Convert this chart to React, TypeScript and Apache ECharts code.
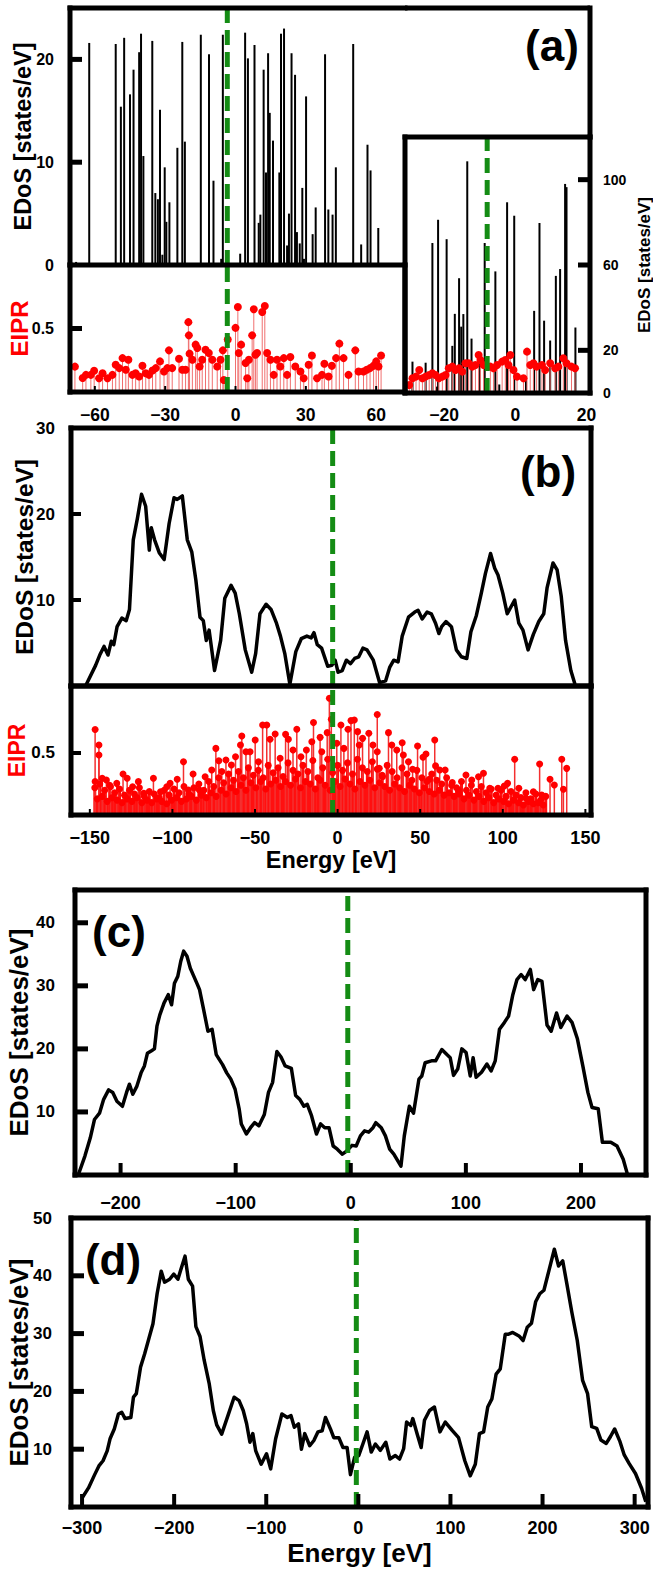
import React, { useEffect, useRef } from "react";
import * as echarts from "echarts";

const FONT = "'Liberation Sans', Arial, Helvetica, sans-serif";
const GREEN = "#148c14";

// ---------- Panel (a): stick EDoS + EIPR ----------
const aFermi = -3.5;
const aXTicks = [-60, -30, 0, 30, 60];
const aDosSticks: [number, number][] = [
  [-68.0, 0.3], [-62.4, 21.6], [-51.1, 21.5], [-48.9, 15.4], [-47.5, 22.1], [-45.0, 16.6], [-43.5, 19.0],
  [-41.1, 20.7], [-40.3, 22.5], [-39.3, 10.6], [-35.5, 21.8], [-34.2, 7.0], [-33.1, 6.4], [-32.2, 15.1],
  [-31.2, 1.0], [-30.2, 9.5], [-29.5, 4.2], [-28.2, 6.1], [-24.8, 11.4], [-22.7, 21.7], [-21.6, 12.0],
  [-14.8, 22.4], [-11.3, 20.5], [-9.4, 8.2], [-6.1, 0.6], [-5.4, 22.4], [2.0, 1.1], [4.1, 22.6],
  [5.3, 20.1], [8.1, 21.4], [9.9, 4.1], [10.6, 4.9], [12.0, 19.0], [13.0, 9.0], [13.9, 20.6],
  [14.6, 14.8], [16.0, 12.1], [18.7, 9.0], [19.4, 22.5], [20.7, 23.0], [22.0, 1.9], [22.8, 5.0],
  [23.9, 20.6], [25.4, 18.5], [26.2, 3.2], [27.4, 2.1], [28.5, 7.5], [29.2, 0.6], [30.1, 16.4],
  [32.9, 3.0], [34.2, 5.6], [38.2, 20.5], [39.6, 5.4], [41.4, 4.9], [42.8, 9.5], [50.2, 21.5],
  [53.6, 2.0], [56.3, 11.7], [57.6, 9.2], [60.9, 3.6],
];
const aIpr: [number, number][] = [
  [-68.5, 0.2], [-65.2, 0.11], [-63.8, 0.135], [-61.7, 0.135], [-60.3, 0.167], [-58.2, 0.108], [-56.7, 0.148],
  [-54.6, 0.108], [-52.5, 0.135], [-51.1, 0.214], [-49.6, 0.188], [-48.2, 0.267], [-46.8, 0.175], [-45.7, 0.254],
  [-44.0, 0.135], [-42.6, 0.148], [-41.1, 0.122], [-39.7, 0.206], [-38.3, 0.148], [-36.9, 0.135], [-35.4, 0.169],
  [-34.0, 0.188], [-32.2, 0.241], [-30.5, 0.161], [-29.1, 0.188], [-28.4, 0.328], [-27.0, 0.188], [-24.1, 0.262],
  [-22.7, 0.175], [-21.3, 0.175], [-20.1, 0.55], [-19.9, 0.446], [-19.6, 0.302], [-18.4, 0.254], [-17.0, 0.373],
  [-16.3, 0.347], [-15.3, 0.201], [-14.2, 0.254], [-12.8, 0.333], [-11.4, 0.307], [-9.9, 0.254], [-7.8, 0.201],
  [-6.4, 0.254], [-5.4, 0.328], [-5.0, 0.095], [-3.3, 0.413], [0.0, 0.505], [1.0, 0.669], [1.4, 0.307],
  [2.4, 0.373], [4.3, 0.228], [5.0, 0.108], [5.7, 0.254], [7.1, 0.446], [7.8, 0.651], [8.5, 0.294],
  [9.2, 0.307], [11.4, 0.63], [12.5, 0.677], [13.5, 0.307], [14.9, 0.254], [16.3, 0.135], [17.7, 0.254],
  [19.1, 0.201], [20.6, 0.267], [22.0, 0.135], [23.4, 0.275], [25.5, 0.201], [27.7, 0.161], [29.1, 0.108],
  [31.2, 0.214], [32.6, 0.288], [34.8, 0.108], [36.9, 0.135], [37.9, 0.222], [39.7, 0.122], [41.1, 0.206],
  [42.9, 0.267], [44.3, 0.381], [46.1, 0.267], [48.2, 0.135], [51.1, 0.328], [52.5, 0.161], [54.6, 0.161],
  [56.0, 0.175], [57.4, 0.188], [58.9, 0.206], [60.0, 0.241], [61.0, 0.201], [62.1, 0.288],
];

// inset of (a)
const insetFermi = -7.9;
const insetYTicks = [20, 60, 100];
const insetDosSticks: [number, number][] = [
  [-28.9, 14.7], [-25.2, 14.2], [-23.3, 70.3], [-22.0, 3.0], [-21.7, 81.2], [-19.3, 72.1], [-17.7, 22.1],
  [-17.0, 37.1], [-15.8, 53.8], [-15.2, 31.1], [-14.6, 37.0], [-13.5, 108.6], [-12.3, 25.5], [-10.0, 14.0],
  [-8.6, 70.3], [-5.6, 57.0], [-4.5, 4.0], [-2.3, 89.4], [-0.3, 83.1], [3.0, 6.0], [5.3, 38.5], [6.8, 79.7],
  [8.1, 33.9], [9.8, 24.6], [11.4, 54.9], [12.6, 58.1], [14.0, 98.0], [14.4, 96.5], [16.9, 30.7],
];
const insetIpr: [number, number][] = [
  [-29.8, 0.062], [-28.9, 0.115], [-27.9, 0.128], [-27.0, 0.18], [-26.1, 0.115], [-25.2, 0.128], [-24.2, 0.141],
  [-23.3, 0.154], [-22.4, 0.141], [-21.5, 0.115], [-20.5, 0.128], [-19.6, 0.141], [-18.7, 0.193], [-17.7, 0.206],
  [-16.8, 0.18], [-15.8, 0.193], [-14.9, 0.167], [-14.0, 0.232], [-13.1, 0.232], [-12.1, 0.206], [-11.2, 0.219],
  [-10.3, 0.297], [-9.8, 0.258], [-8.9, 0.219], [-7.0, 0.206], [-6.1, 0.193], [-5.1, 0.219], [-3.7, 0.245],
  [-2.8, 0.258], [-1.9, 0.219], [-1.4, 0.297], [-0.5, 0.18], [0.5, 0.128], [2.3, 0.115], [3.3, 0.323],
  [4.2, 0.219], [5.1, 0.232], [6.0, 0.206], [7.5, 0.219], [8.4, 0.18], [9.8, 0.232], [11.2, 0.193],
  [12.1, 0.206], [13.5, 0.271], [14.4, 0.232], [15.8, 0.206], [16.8, 0.193],
];

// ---------- Panel (b) ----------
const bFermi = -3;
const bXTicks = [-150, -100, -50, 0, 50, 100, 150];
const bDos: [number, number][] = [
  [-152.6, 0], [-146.5, 2.4], [-144, 3.6], [-141.4, 4.6], [-139, 3.6], [-137, 5.2], [-135.5, 4.8], [-133.5, 6.9],
  [-130.6, 7.9], [-128, 7.6], [-126, 8.9], [-123.7, 17.0], [-121.2, 19.5], [-118.7, 22.3], [-116.2, 20.9],
  [-114, 15.8], [-112.8, 18.4], [-110.8, 17.0], [-108, 15.5], [-105, 14.7], [-102, 18.9], [-99, 21.9],
  [-97.1, 21.7], [-94, 22.1], [-91, 17.0], [-88.3, 15.6], [-85.8, 12.3], [-83.3, 8.0], [-81.3, 7.6],
  [-79.5, 5.3], [-77.8, 6.5], [-74.5, 1.8], [-70.8, 5.3], [-68.3, 10.2], [-64.5, 11.7], [-62, 10.8],
  [-59.5, 8.4], [-55.9, 4.2], [-52, 1.6], [-49.6, 3.8], [-47, 8.4], [-43.3, 9.5], [-40.3, 8.9], [-37, 7.3],
  [-34.6, 5.8], [-32, 3.8], [-28.9, 0.2], [-25.3, 4.0], [-22, 5.5], [-18.6, 5.8], [-16, 5.6], [-14.3, 6.2],
  [-12.3, 4.8], [-9.7, 4.4], [-6, 2.3], [-3.5, 2.4], [-1.5, 3.0], [0.3, 1.6], [2.8, 1.8], [5.3, 3.0],
  [7.8, 2.6], [10.3, 3.2], [12.8, 3.4], [15.3, 4.4], [17.8, 4.2], [21.6, 3.0], [25.4, 0.4], [29.1, 0.6],
  [31.6, 2.2], [34, 3.0], [36.6, 2.8], [39.1, 5.8], [42.9, 8.0], [46.7, 8.6], [48.7, 8.8], [51.2, 7.8],
  [54.2, 8.6], [56.7, 8.4], [59.3, 7.3], [61.3, 6.1], [63, 6.9], [65.6, 7.5], [68.9, 6.9], [71.9, 4.2],
  [74.9, 3.4], [78.2, 3.2], [80.7, 6.3], [84, 8.2], [87, 10.8], [89.5, 13.1], [92.6, 15.4], [95.1, 13.7],
  [97.1, 12.9], [100, 10.8], [102.7, 8.4], [107.2, 10.0], [109.7, 7.3], [112.2, 6.5], [115.3, 4.2],
  [118.5, 6.0], [121.8, 7.5], [124.8, 8.4], [126.8, 11.4], [130.4, 14.3], [132.9, 13.5], [135.4, 10.4],
  [138, 5.3], [141.2, 1.8], [143.7, 0.2],
];
const bIprPeaks: [number, number][] = [
  [-146.8, 0.69], [-146.8, 0.27], [-144.5, 0.565], [-144.5, 0.484], [-142.5, 0.296], [-140.0, 0.282],
  [-137.5, 0.228], [-133.7, 0.255], [-129.9, 0.33], [-127.4, 0.296], [-124.1, 0.228], [-120.6, 0.269],
  [-117.3, 0.175], [-111.5, 0.296], [-107.2, 0.188], [-103.4, 0.228], [-101.4, 0.255], [-97.1, 0.288],
  [-93.3, 0.43], [-90.3, 0.202], [-87.5, 0.33], [-83.7, 0.202], [-80.2, 0.309], [-76.2, 0.363],
  [-73.7, 0.537], [-71.9, 0.438], [-70.1, 0.35], [-67.6, 0.444], [-64.3, 0.403], [-61.8, 0.47],
  [-58.8, 0.565], [-58.0, 0.637], [-55.5, 0.51], [-53.0, 0.51], [-49.9, 0.605], [-47.9, 0.43],
  [-45.4, 0.726], [-42.9, 0.726], [-40.9, 0.61], [-37.8, 0.653], [-34.8, 0.457], [-31.5, 0.65],
  [-29.8, 0.61], [-27.0, 0.524], [-24.7, 0.691], [-22.2, 0.47], [-18.9, 0.524], [-15.6, 0.591],
  [-14.6, 0.745], [-10.6, 0.626], [-9.6, 0.51], [-6.3, 0.664], [-5.0, 0.941], [-3.8, 0.771], [-0.5, 0.578],
  [2.0, 0.726], [3.8, 0.537], [6.3, 0.691], [8.1, 0.761], [10.1, 0.766], [12.1, 0.672], [13.1, 0.565],
  [15.1, 0.618], [18.9, 0.659], [21.4, 0.565], [24.0, 0.51], [24.0, 0.81], [25.2, 0.376], [27.2, 0.309],
  [30.8, 0.664], [32.8, 0.565], [35.8, 0.524], [39.1, 0.583], [39.8, 0.484], [42.9, 0.43], [45.4, 0.369],
  [48.4, 0.556], [51.7, 0.465], [53.5, 0.492], [55.5, 0.288], [58.8, 0.605], [59.3, 0.396], [61.8, 0.363],
  [65.1, 0.363], [69.4, 0.261], [73.1, 0.202], [77.7, 0.323], [81.2, 0.282], [85.3, 0.309], [88.3, 0.336],
  [92.1, 0.215], [97.1, 0.215], [100.9, 0.234], [102.9, 0.255], [107.2, 0.449], [109.7, 0.215],
  [114.0, 0.135], [118.5, 0.188], [122.3, 0.411], [123.6, 0.161], [128.6, 0.288], [131.2, 0.242],
  [135.7, 0.449], [136.7, 0.207], [138.7, 0.376],
];
const bIprBaseA: [number, number][] = [
  [-147, 0.22], [-144, 0.25], [-141, 0.2], [-138, 0.24], [-135, 0.18], [-132, 0.21], [-129, 0.16], [-126, 0.2],
  [-123, 0.17], [-120, 0.22], [-117, 0.15], [-114, 0.19], [-111, 0.17], [-108, 0.14], [-105, 0.2], [-102, 0.16],
  [-99, 0.21], [-96, 0.18], [-93, 0.23], [-90, 0.17], [-87, 0.22], [-84, 0.25], [-81, 0.2], [-78, 0.27],
  [-75, 0.23], [-72, 0.3], [-69, 0.26], [-66, 0.33], [-63, 0.28], [-60, 0.35], [-57, 0.3], [-54, 0.38],
  [-51, 0.32], [-48, 0.36], [-45, 0.3], [-42, 0.4], [-39, 0.34], [-36, 0.38], [-33, 0.31], [-30, 0.42],
  [-27, 0.36], [-24, 0.33], [-21, 0.4], [-18, 0.35], [-15, 0.44], [-12, 0.3], [-9, 0.38], [-6, 0.45],
  [-3, 0.34], [0, 0.4], [3, 0.36], [6, 0.42], [9, 0.33], [12, 0.45], [15, 0.38], [18, 0.35], [21, 0.43],
  [24, 0.37], [27, 0.32], [30, 0.4], [33, 0.35], [36, 0.3], [39, 0.38], [42, 0.33], [45, 0.28], [48, 0.36],
  [51, 0.3], [54, 0.27], [57, 0.33], [60, 0.28], [63, 0.25], [66, 0.3], [69, 0.24], [72, 0.22], [75, 0.27],
  [78, 0.2], [81, 0.24], [84, 0.19], [87, 0.23], [90, 0.18], [93, 0.21], [96, 0.16], [99, 0.2], [102, 0.15],
  [105, 0.19], [108, 0.16], [111, 0.14], [114, 0.18], [117, 0.13], [120, 0.17], [123, 0.12], [126, 0.15],
];
const bIprBaseB: [number, number][] = [
  [-145.5, 0.13], [-142.5, 0.15], [-139.5, 0.11], [-136.5, 0.14], [-133.5, 0.12], [-130.5, 0.1], [-127.5, 0.13],
  [-124.5, 0.11], [-121.5, 0.14], [-118.5, 0.1], [-115.5, 0.12], [-112.5, 0.1], [-109.5, 0.13], [-106.5, 0.11],
  [-103.5, 0.09], [-100.5, 0.12], [-97.5, 0.14], [-94.5, 0.11], [-91.5, 0.13], [-88.5, 0.15], [-85.5, 0.12],
  [-82.5, 0.16], [-79.5, 0.14], [-76.5, 0.18], [-73.5, 0.15], [-70.5, 0.2], [-67.5, 0.17], [-64.5, 0.22],
  [-61.5, 0.19], [-58.5, 0.24], [-55.5, 0.2], [-52.5, 0.26], [-49.5, 0.22], [-46.5, 0.27], [-43.5, 0.21],
  [-40.5, 0.25], [-37.5, 0.28], [-34.5, 0.23], [-31.5, 0.27], [-28.5, 0.24], [-25.5, 0.29], [-22.5, 0.22],
  [-19.5, 0.27], [-16.5, 0.25], [-13.5, 0.21], [-10.5, 0.28], [-7.5, 0.24], [-4.5, 0.2], [-1.5, 0.27],
  [1.5, 0.23], [4.5, 0.29], [7.5, 0.25], [10.5, 0.21], [13.5, 0.27], [16.5, 0.24], [19.5, 0.28], [22.5, 0.22],
  [25.5, 0.26], [28.5, 0.23], [31.5, 0.2], [34.5, 0.25], [37.5, 0.22], [40.5, 0.19], [43.5, 0.24], [46.5, 0.21],
  [49.5, 0.18], [52.5, 0.22], [55.5, 0.19], [58.5, 0.17], [61.5, 0.2], [64.5, 0.16], [67.5, 0.18], [70.5, 0.15],
  [73.5, 0.17], [76.5, 0.13], [79.5, 0.16], [82.5, 0.12], [85.5, 0.15], [88.5, 0.11], [91.5, 0.14], [94.5, 0.1],
  [97.5, 0.13], [100.5, 0.11], [103.5, 0.09], [106.5, 0.12], [109.5, 0.1], [112.5, 0.08], [115.5, 0.11],
  [118.5, 0.09], [121.5, 0.1], [124.5, 0.08],
];

// ---------- Panel (c) ----------
const cFermi = -2.6;
const cXTicks = [-200, -100, 0, 100, 200];
const cYTicks = [10, 20, 30, 40];
const cDos: [number, number][] = [
  [-236.4, 0.2], [-231, 3.0], [-226.3, 5.9], [-222.7, 8.8], [-218.3, 9.8], [-214.7, 12.0], [-210.4, 13.5],
  [-206.8, 13.1], [-203.2, 11.7], [-198.4, 10.9], [-194.8, 13.1], [-192.3, 14.4], [-189.4, 12.8], [-185.8, 14.1],
  [-182.2, 16.2], [-179.3, 17.3], [-176.7, 19.3], [-173.1, 19.7], [-170.6, 20.0], [-168.4, 23.6], [-165.9, 25.4],
  [-162.2, 27.3], [-158.6, 28.6], [-155.7, 27.0], [-153.2, 30.4], [-150.3, 31.5], [-147.7, 33.9], [-145.2, 35.5],
  [-142.3, 34.7], [-139.4, 32.8], [-136.8, 31.7], [-133.2, 30.2], [-131.4, 29.4], [-127.8, 26.2], [-124.1, 22.8],
  [-120.5, 23.1], [-116.9, 19.1], [-111.4, 17.5], [-107.8, 16.2], [-104.2, 15.2], [-100.5, 13.6], [-96.9, 10.4],
  [-95.1, 8.1], [-90.7, 6.5], [-87.1, 7.5], [-83.5, 8.3], [-79.8, 7.8], [-75.1, 9.6], [-71.5, 13.1], [-67.9, 14.7],
  [-64.2, 19.6], [-60.6, 18.7], [-57, 17.3], [-51.6, 16.9], [-47.9, 12.6], [-44.3, 12.0], [-40.7, 10.9],
  [-37.8, 11.2], [-34.1, 9.4], [-29.8, 6.5], [-26.2, 8.1], [-22.6, 7.5], [-18.9, 7.5], [-15.3, 4.6], [-11.7, 4.1],
  [-7.3, 3.3], [-3.6, 3.8], [1.1, 4.7], [4.7, 4.6], [8.4, 6.2], [12, 7.0], [15.6, 6.8], [19.3, 7.5], [21.8, 8.3],
  [26.5, 7.5], [30.1, 6.2], [33.8, 4.1], [37.4, 3.3], [41, 2.2], [43.6, 1.4], [46.5, 6.2], [50.9, 10.9],
  [54.5, 9.8], [59.2, 15.2], [61.7, 15.7], [64.6, 17.8], [70.1, 18.1], [73.7, 18.1], [79.1, 19.9], [83.5, 19.1],
  [86.4, 18.6], [89.3, 15.8], [92.9, 16.8], [96.5, 20.0], [100.2, 19.4], [103.8, 15.7], [106.3, 18.6],
  [108.9, 15.5], [113.6, 16.3], [118.3, 17.6], [121.9, 16.5], [125.5, 18.1], [129.2, 23.1], [133.5, 24.2],
  [137.1, 25.2], [140.8, 28.6], [144.4, 31.0], [148, 31.8], [151.6, 31.0], [156, 32.6], [158.9, 29.4],
  [162.5, 31.0], [166.1, 30.7], [170.5, 23.8], [174.1, 22.8], [178.8, 25.7], [182.5, 23.4], [187.9, 25.2],
  [192.2, 24.2], [196.9, 21.6], [201.6, 17.3], [206, 13.1], [209.6, 10.7], [215, 10.5], [218.6, 5.2],
  [225.9, 5.2], [231.3, 4.6], [236.7, 2.5], [240.4, 0.1],
];

// ---------- Panel (d) ----------
const dFermi = -2.2;
const dXTicks = [-300, -200, -100, 0, 100, 200, 300];
const dYTicks = [10, 20, 30, 40];
const dDos: [number, number][] = [
  [-299.8, 1.6], [-293, 3.3], [-286.3, 5.6], [-281.7, 7.1], [-277.2, 8.0], [-272.7, 9.7], [-269.6, 11.8],
  [-265, 13.5], [-260.5, 16.1], [-256.9, 16.4], [-253.3, 15.3], [-247, 15.5], [-244.2, 19.0], [-241.1, 19.6],
  [-236.5, 24.2], [-232, 26.5], [-227.5, 29.1], [-223, 31.7], [-218.5, 36.9], [-214, 40.8], [-210.4, 38.9],
  [-204.9, 39.4], [-200.4, 40.3], [-195.9, 39.4], [-192.7, 41.1], [-188.2, 43.4], [-184.6, 39.4], [-180, 38.2],
  [-176.4, 31.2], [-171.9, 29.5], [-167.4, 25.4], [-162, 21.4], [-157.5, 16.7], [-153.8, 14.2], [-148.4, 12.6],
  [-141.6, 15.8], [-134.9, 19.0], [-129.5, 18.4], [-125, 16.7], [-121.3, 14.4], [-117.7, 11.2], [-114.6, 12.7],
  [-111.4, 9.7], [-105.5, 7.4], [-99.7, 9.2], [-95.2, 6.6], [-89.8, 11.8], [-83, 16.1], [-77.1, 15.5],
  [-73.1, 15.8], [-69.5, 13.8], [-65, 14.4], [-61.8, 10.0], [-58.2, 12.7], [-52.8, 10.6], [-48.3, 11.5],
  [-43.8, 13.0], [-39.3, 13.2], [-35.7, 15.5], [-30.3, 13.5], [-26.7, 12.0], [-21.2, 12.0], [-16.7, 10.3],
  [-12.2, 10.3], [-8.6, 5.6], [-4.1, 8.6], [0.4, 8.9], [4.9, 10.9], [9.5, 13.0], [14.0, 9.5], [18.5, 10.9],
  [23.9, 9.8], [29.8, 11.2], [34.3, 8.3], [40.2, 8.9], [44.7, 8.3], [49.2, 10.1], [52.4, 14.7], [56.9, 14.1],
  [59.1, 15.3], [63.7, 12.7], [68.2, 10.3], [71.8, 15.0], [77.3, 16.7], [82.6, 17.3], [88.6, 13.0],
  [94.4, 14.7], [102.1, 13.2], [108.8, 12.0], [115.6, 8.0], [121.5, 5.4], [127, 7.4], [131.5, 12.7],
  [136, 13.0], [140.5, 17.3], [145, 18.7], [149.6, 23.0], [154.1, 23.9], [159.5, 29.9], [163.1, 29.9],
  [167.6, 30.2], [174.4, 29.6], [178.9, 28.8], [183.4, 31.1], [188, 31.8], [192.5, 35.5], [197, 36.9],
  [201.5, 37.5], [207.4, 41.2], [212.8, 44.6], [217.4, 41.7], [221.9, 42.6], [226.4, 38.6], [231.8, 33.7],
  [237.7, 28.8], [243.5, 21.9], [248.9, 19.6], [253.4, 13.9], [258.8, 13.6], [263.3, 11.6], [269.2, 11.0],
  [273.8, 12.2], [278.3, 13.5], [284.1, 11.3], [288.7, 9.0], [294.1, 7.5], [300.9, 5.8], [307.6, 3.2],
  [312.1, 0.9],
];

// ---------- layout of the plotting areas (pixels) and their axis extents ----------
type Box = { left: number; top: number; w: number; h: number; x0: number; x1: number; y0: number; y1: number };
const P: Record<string, Box> = {
  aTop: { left: 70, top: 8, w: 335, h: 257, x0: -70.6, x1: 72.3, y0: 0, y1: 25 },
  aBot: { left: 70, top: 265, w: 335, h: 127, x0: -70.6, x1: 72.3, y0: 0, y1: 1 },
  ins: { left: 405, top: 137, w: 185, h: 256, x0: -31, x1: 21, y0: 0, y1: 120 },
  bTop: { left: 71, top: 428, w: 520, h: 258, x0: -161.4, x1: 153.4, y0: 0, y1: 30 },
  bBot: { left: 71, top: 686, w: 520, h: 129, x0: -161.4, x1: 153.4, y0: 0, y1: 1.04 },
  c: { left: 75, top: 890, w: 571, h: 285, x0: -239.6, x1: 256.5, y0: 0, y1: 45.2 },
  d: { left: 71, top: 1218, w: 577, h: 289, x0: -312, x1: 314.5, y0: 0, y1: 50 },
};

const fmt = (v: number) => (v < 0 ? "\u2212" + Math.abs(v) : String(v));
const noBounds = { containLabel: false, outerBoundsMode: "none" };
const gridOf = (b: Box) => ({ left: b.left, top: b.top, width: b.w, height: b.h, show: false, ...noBounds });

function xAx(grid: number, b: Box, labels: number[] | null,
  o: { margin?: number; size?: number; name?: string; nameSize?: number; nameGap?: number } = {}) {
  return {
    type: "value", gridIndex: grid, min: b.x0, max: b.x1,
    axisLine: { show: false, onZero: false }, splitLine: { show: false }, axisTick: { show: false },
    axisLabel: labels ? { show: true, customValues: labels, formatter: fmt, color: "#000", fontWeight: "bold", fontFamily: FONT, fontSize: o.size ?? 18, margin: o.margin ?? 14 } : { show: false },
    name: o.name, nameLocation: "middle", nameGap: o.nameGap ?? 33, nameMoveOverlap: false,
    nameTextStyle: { color: "#000", fontWeight: "bold", fontFamily: FONT, fontSize: o.nameSize ?? 23.5 },
  };
}
function yAx(grid: number, min: number, max: number, labels: number[] | null,
  o: { margin?: number; size?: number; name?: string; nameColor?: string; nameGap?: number; nameSize?: number; position?: string; show?: boolean } = {}) {
  return {
    type: "value", gridIndex: grid, min, max, show: o.show ?? true, position: o.position ?? "left",
    axisLine: { show: false, onZero: false }, splitLine: { show: false }, axisTick: { show: false },
    axisLabel: labels ? { show: true, customValues: labels, formatter: fmt, color: "#000", fontWeight: "bold", fontFamily: FONT, fontSize: o.size ?? 17, margin: o.margin ?? 16 } : { show: false },
    name: o.name, nameLocation: "middle", nameGap: o.nameGap ?? 38, nameRotate: 90, nameMoveOverlap: false,
    nameTextStyle: { color: o.nameColor ?? "#000", fontWeight: "bold", fontFamily: FONT, fontSize: o.nameSize ?? 23 },
  };
}

// frame of a plotting area as four filled bars
function frameRects(b: Box, t: number, sides = { l: true, r: true, t: true, b: true }) {
  const out: any[] = [];
  const h = t / 2;
  const st = { fill: "#000" };
  if (sides.l) out.push({ type: "rect", z: 100, silent: true, shape: { x: b.left - h, y: b.top - h, width: t, height: b.h + t }, style: st });
  if (sides.r) out.push({ type: "rect", z: 100, silent: true, shape: { x: b.left + b.w - h, y: b.top - h, width: t, height: b.h + t }, style: st });
  if (sides.t) out.push({ type: "rect", z: 100, silent: true, shape: { x: b.left - h, y: b.top - h, width: b.w + t, height: t }, style: st });
  if (sides.b) out.push({ type: "rect", z: 100, silent: true, shape: { x: b.left - h, y: b.top + b.h - h, width: b.w + t, height: t }, style: st });
  return out;
}

// inward tick marks as filled rects; pixel position derived from each tick value and the box's axis extent
function tickMarks(b: Box, values: number[], side: "left" | "right" | "bottom", len: number, width: number) {
  return values.map((v) => {
    let shape;
    if (side === "bottom") {
      const px = b.left + (b.w * (v - b.x0)) / (b.x1 - b.x0);
      shape = { x: px - width / 2, y: b.top + b.h - len, width, height: len };
    } else {
      const py = b.top + (b.h * (b.y1 - v)) / (b.y1 - b.y0);
      const x = side === "left" ? b.left : b.left + b.w - len;
      shape = { x, y: py - width / 2, width: len, height: width };
    }
    return { type: "rect", z: 101, silent: true, shape, style: { fill: "#000" } };
  });
}

function sticks(xi: number, yi: number, pts: [number, number][], color: string, width: number) {
  return {
    type: "custom", coordinateSystem: "cartesian2d", xAxisIndex: xi, yAxisIndex: yi,
    data: pts, encode: { x: 0, y: 1 }, silent: true, clip: true,
    renderItem: (_p: any, api: any) => {
      const x = api.value(0); const v = api.value(1);
      const p0 = api.coord([x, 0]); const p1 = api.coord([x, v]);
      return { type: "line", shape: { x1: p0[0], y1: p0[1], x2: p1[0], y2: p1[1] }, style: { stroke: color, lineWidth: width } };
    },
  };
}
function dots(xi: number, yi: number, pts: [number, number][], size: number) {
  return { type: "scatter", xAxisIndex: xi, yAxisIndex: yi, data: pts, symbol: "circle", symbolSize: size, itemStyle: { color: "#ff0000", opacity: 1 }, silent: true };
}
function curve(xi: number, yi: number, pts: [number, number][]) {
  return { type: "line", xAxisIndex: xi, yAxisIndex: yi, data: pts, showSymbol: false, symbol: "none", lineStyle: { color: "#000", width: 3.5, join: "round" }, silent: true, clip: true };
}
function fermi(xi: number, yi: number, x: number, y0: number, y1: number) {
  return { type: "line", xAxisIndex: xi, yAxisIndex: yi, data: [[x, y0], [x, y1]], showSymbol: false, symbol: "none", z: 6,
    lineStyle: { color: GREEN, width: 5, type: [15, 7] }, silent: true };
}

const option: any = {
  animation: false,
  backgroundColor: "#fff",
  grid: [gridOf(P.aTop), gridOf(P.aBot), gridOf(P.ins), gridOf(P.bTop), gridOf(P.bBot), gridOf(P.c), gridOf(P.d)],
  xAxis: [
    xAx(0, P.aTop, null),
    xAx(1, P.aBot, aXTicks, { margin: 14, size: 17.5 }),
    xAx(2, P.ins, [-20, 0, 20], { margin: 13, size: 17.5 }),
    xAx(3, P.bTop, null),
    xAx(4, P.bBot, bXTicks, { margin: 14, size: 18, name: "Energy [eV]", nameSize: 23.5, nameGap: 33 }),
    xAx(5, P.c, cXTicks, { margin: 19, size: 18 }),
    xAx(6, P.d, dXTicks, { margin: 12, size: 18, name: "Energy [eV]", nameSize: 26, nameGap: 33 }),
  ],
  yAxis: [
    yAx(0, P.aTop.y0, P.aTop.y1, [0, 10, 20], { size: 16, name: "EDoS [states/eV]", nameSize: 23.5, nameGap: 35 }),
    yAx(1, P.aBot.y0, P.aBot.y1, [0.5], { size: 16, name: "EIPR", nameColor: "#ff0000", nameSize: 24, nameGap: 39 }),
    yAx(2, P.ins.y0, P.ins.y1, [0, 20, 60, 100], { position: "right", size: 14, margin: 13, name: "EDoS [states/eV]", nameSize: 17, nameGap: 46 }),
    yAx(2, 0, 2, null, { show: false }),
    yAx(3, P.bTop.y0, P.bTop.y1, [10, 20, 30], { name: "EDoS [states/eV]", nameSize: 24.5, nameGap: 34 }),
    yAx(4, P.bBot.y0, P.bBot.y1, [0.5], { name: "EIPR", nameColor: "#ff0000", nameSize: 23, nameGap: 43 }),
    yAx(5, P.c.y0, P.c.y1, [10, 20, 30, 40], { margin: 20, name: "EDoS [states/eV]", nameSize: 26, nameGap: 43 }),
    yAx(6, P.d.y0, P.d.y1, [10, 20, 30, 40, 50], { margin: 19, name: "EDoS [states/eV]", nameSize: 26, nameGap: 39 }),
  ],
  series: [
    sticks(0, 0, aDosSticks, "#000", 2),
    fermi(0, 0, aFermi, 0, 25),
    sticks(1, 1, aIpr, "#f07070", 1),
    dots(1, 1, aIpr, 8),
    fermi(1, 1, aFermi, 0, 1),
    { ...sticks(2, 2, insetDosSticks, "#000", 2), z: 4 },
    { ...sticks(2, 3, insetIpr, "#f07070", 1), z: 4 },
    { ...dots(2, 3, insetIpr, 8), z: 5 },
    fermi(2, 2, insetFermi, 0, 120),
    curve(3, 4, bDos),
    fermi(3, 4, bFermi, 0, 30),
    sticks(4, 5, bIprBaseB, "#ff1010", 3),
    sticks(4, 5, bIprBaseA, "#ff1010", 3),
    sticks(4, 5, bIprPeaks, "#f43030", 1.5),
    dots(4, 5, bIprBaseB, 7),
    dots(4, 5, bIprBaseA, 7),
    dots(4, 5, bIprPeaks, 7),
    fermi(4, 5, bFermi, 0, 1.04),
    curve(5, 6, cDos),
    fermi(5, 6, cFermi, 0, 45.2),
    curve(6, 7, dDos),
    fermi(6, 7, dFermi, 0, 50),
  ],
  graphic: {
    elements: [
      ...frameRects(P.aTop, 5, { l: true, r: false, t: true, b: false }),
      { type: "rect", z: 100, silent: true, shape: { x: P.ins.left + P.ins.w - 2.5, y: P.aTop.top - 2.5, width: 5, height: P.ins.top - P.aTop.top + 5 }, style: { fill: "#000" } },
      { type: "rect", z: 100, silent: true, shape: { x: P.aTop.left + P.aTop.w, y: P.aTop.top - 2.5, width: P.ins.left + P.ins.w - P.aTop.left - P.aTop.w, height: 5 }, style: { fill: "#000" } },
      ...frameRects(P.aBot, 5),
      ...frameRects(P.ins, 5),
      ...frameRects(P.bTop, 5),
      ...frameRects(P.bBot, 5),
      ...frameRects(P.c, 5),
      ...frameRects(P.d, 5),
      ...tickMarks(P.aTop, [10, 20], "left", 12, 5),
      ...tickMarks(P.aBot, [0.5], "left", 12, 5),
      ...tickMarks(P.aBot, aXTicks, "bottom", 6, 2),
      ...tickMarks(P.ins, insetYTicks, "right", 12, 5),
      ...tickMarks(P.bTop, [10, 20], "left", 10, 4),
      ...tickMarks(P.bBot, [0.5], "left", 10, 4),
      ...tickMarks(P.bBot, bXTicks, "bottom", 6, 2),
      ...tickMarks(P.c, cYTicks, "left", 13, 5),
      ...tickMarks(P.c, cXTicks, "bottom", 12, 4),
      ...tickMarks(P.d, dYTicks, "left", 13, 5),
      ...tickMarks(P.d, dXTicks, "bottom", 13, 4),
      { type: "text", z: 102, x: 552, y: 45, style: { text: "(a)", fontSize: 44, fontWeight: "bold", fontFamily: FONT, fill: "#000", align: "center", verticalAlign: "middle" } },
      { type: "text", z: 102, x: 548, y: 471, style: { text: "(b)", fontSize: 44, fontWeight: "bold", fontFamily: FONT, fill: "#000", align: "center", verticalAlign: "middle" } },
      { type: "text", z: 102, x: 119, y: 931, style: { text: "(c)", fontSize: 44, fontWeight: "bold", fontFamily: FONT, fill: "#000", align: "center", verticalAlign: "middle" } },
      { type: "text", z: 102, x: 113, y: 1259, style: { text: "(d)", fontSize: 44, fontWeight: "bold", fontFamily: FONT, fill: "#000", align: "center", verticalAlign: "middle" } },
    ],
  },
};

export default function App() {
  const ref = useRef<HTMLDivElement>(null);
  useEffect(() => {
    if (!ref.current) return;
    const chart = echarts.init(ref.current, undefined, { renderer: "svg" });
    chart.setOption(option);
    return () => chart.dispose();
  }, []);
  return <div ref={ref} style={{ position: "absolute", left: 0, top: 0, width: 653, height: 1571, background: "#fff" }} />;
}
